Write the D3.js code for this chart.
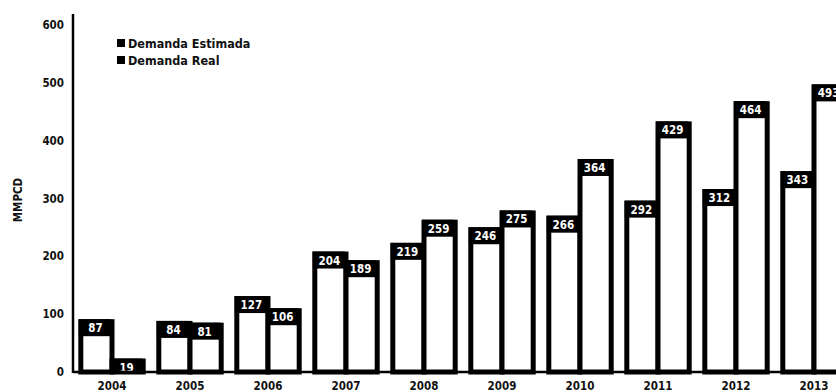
<!DOCTYPE html>
<html>
<head>
<meta charset="utf-8">
<script src="https://cdn.jsdelivr.net/npm/d3@7"></script>
<style>
  html, body { margin: 0; padding: 0; background: #fff; overflow: hidden; }
  svg { display: block; }
  text { font-family: "DejaVu Sans Condensed", "Liberation Sans Narrow", "DejaVu Sans", sans-serif; font-weight: bold; }
</style>
</head>
<body>
<svg id="chart" width="836" height="392"></svg>
<script>
// Gas demand per year (MMPCD)
const years = ["2004", "2005", "2006", "2007", "2008", "2009", "2010", "2011", "2012", "2013"];
const demandaEstimada = [87, 84, 127, 204, 219, 246, 266, 292, 312, 343];
const demandaReal = [19, 81, 106, 189, 259, 275, 364, 429, 464, 493];
const seriesNames = ["Demanda Estimada", "Demanda Real"];
const yTicks = [0, 100, 200, 300, 400, 500, 600];

const svg = d3.select("#chart");
const axisX = 73, baseY = 372, topY = 14;

const x0 = d3.scaleBand()
  .domain(years)
  .range([axisX, axisX + 780])
  .paddingInner(0.2)
  .paddingOuter(0.1);

const x1 = d3.scaleBand()
  .domain(seriesNames)
  .range([0, x0.bandwidth()])
  .padding(0);

const y = d3.scaleLinear().domain([0, 600]).range([baseY, 25]);

const rows = years.map((yr, i) => ({
  year: yr,
  values: [
    { key: seriesNames[0], value: demandaEstimada[i] },
    { key: seriesNames[1], value: demandaReal[i] }
  ]
}));

// Bars: white fill, heavy black outline shared between the pair,
// value printed in a black band along the top of each bar
const groups = svg.append("g").selectAll("g")
  .data(rows).join("g")
  .attr("transform", d => `translate(${x0(d.year)},0)`);

const bars = groups.selectAll("g.bar")
  .data(d => d.values).join("g").attr("class", "bar");

const sw = 5;
bars.append("rect")
  .attr("x", d => x1(d.key))
  .attr("y", d => y(d.value))
  .attr("width", x1.bandwidth())
  .attr("height", d => baseY - y(d.value))
  .attr("fill", "#fff")
  .attr("stroke", "#000")
  .attr("stroke-width", sw);

const boxH = 17;
bars.append("rect")
  .attr("x", d => x1(d.key) - 2)
  .attr("y", d => y(d.value) - 2.5)
  .attr("width", x1.bandwidth() + 1)
  .attr("height", d => Math.min(boxH, baseY - y(d.value) + 2.5))
  .attr("fill", "#000");

bars.append("text")
  .attr("x", d => x1(d.key) + x1.bandwidth() / 2 - 1)
  .attr("y", d => y(d.value) + 10.5)
  .attr("text-anchor", "middle")
  .attr("fill", "#fff")
  .attr("font-size", 11.5)
  .text(d => d.value);

// Axes
svg.append("line")
  .attr("x1", axisX).attr("x2", 836)
  .attr("y1", baseY).attr("y2", baseY)
  .attr("stroke", "#000").attr("stroke-width", 2.5);

svg.append("line")
  .attr("x1", axisX).attr("x2", axisX)
  .attr("y1", topY).attr("y2", baseY + 1)
  .attr("stroke", "#000").attr("stroke-width", 2.5);

svg.append("g").selectAll("text")
  .data(yTicks).join("text")
  .attr("x", 64)
  .attr("y", d => y(d) + 4)
  .attr("text-anchor", "end")
  .attr("font-size", 11.5)
  .attr("fill", "#111")
  .text(d => d);

svg.append("g").selectAll("text")
  .data(years).join("text")
  .attr("x", d => x0(d) + x0.bandwidth() / 2)
  .attr("y", 390)
  .attr("text-anchor", "middle")
  .attr("font-size", 11.5)
  .attr("fill", "#111")
  .text(d => d);

svg.append("text")
  .attr("transform", "translate(22,200) rotate(-90)")
  .attr("text-anchor", "middle")
  .attr("font-size", 11.5)
  .attr("fill", "#111")
  .text("MMPCD");

// Legend
const legend = svg.append("g").attr("transform", "translate(117,38)");
const li = legend.selectAll("g").data(seriesNames).join("g")
  .attr("transform", (d, i) => `translate(0,${i * 17})`);
li.append("rect").attr("width", 8).attr("height", 8).attr("y", 1).attr("fill", "#000");
li.append("text").attr("x", 11).attr("y", 9.5).attr("font-size", 12.5).attr("fill", "#111").text(d => d);
</script>
</body>
</html>
